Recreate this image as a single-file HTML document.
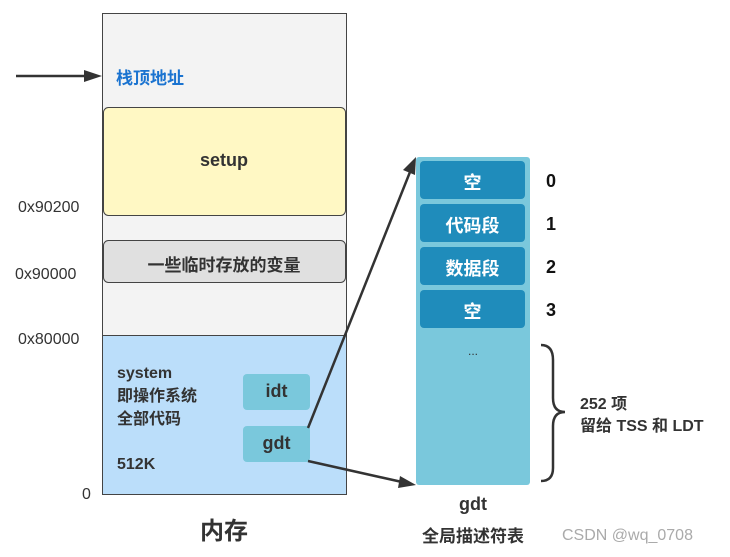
<!DOCTYPE html>
<html><head><meta charset="utf-8"><style>
body{margin:0;width:730px;height:557px;background:#fff;overflow:hidden;position:relative;font-family:"Liberation Sans","Noto Sans CJK SC",sans-serif;}
.a{position:absolute;}
</style></head><body>
<svg class="a" style="left:0;top:0" width="730" height="557">
<rect x="102.5" y="13.5" width="244" height="481" fill="#f3f3f3" stroke="#444"/>
<rect x="102.5" y="335.5" width="244" height="159" fill="#bbdefa" stroke="#444"/>
<rect x="103.5" y="107.5" width="242" height="108" rx="5" fill="#fff8c4" stroke="#444"/>
<rect x="103.5" y="240.5" width="242" height="42" rx="5" fill="#e0e0e0" stroke="#444"/>
<rect x="243" y="374" width="67" height="36" rx="4" fill="#7ac8dc"/>
<rect x="243" y="426" width="67" height="36" rx="4" fill="#7ac8dc"/>
<rect x="416" y="157" width="114" height="328" rx="3" fill="#7ac8dc"/>
<rect x="420" y="161" width="105" height="38" rx="4" fill="#1f8cbb"/>
<rect x="420" y="204" width="105" height="38" rx="4" fill="#1f8cbb"/>
<rect x="420" y="247" width="105" height="38" rx="4" fill="#1f8cbb"/>
<rect x="420" y="290" width="105" height="38" rx="4" fill="#1f8cbb"/>
<line x1="16" y1="76" x2="88" y2="76" stroke="#333" stroke-width="2.5"/>
<polygon points="102,76 84,70 84,82" fill="#333"/>
<line x1="308" y1="428" x2="410" y2="172" stroke="#333" stroke-width="2.5"/>
<polygon points="416,157 403,170 415,175" fill="#333"/>
<line x1="308" y1="461" x2="402" y2="482" stroke="#333" stroke-width="2.5"/>
<polygon points="416,485 400,476 398,488" fill="#333"/>
<path d="M541,345 Q553,345 553,360 L553,398 Q553,412 565,412 Q553,412 553,426 L553,468 Q553,481 541,481" fill="none" stroke="#333" stroke-width="2.5"/>
</svg>
<div class="a" style="left:116px;top:64px;font-size:17px;font-weight:bold;color:#1a73d0">栈顶地址</div>
<div class="a" style="left:103px;top:150px;width:242px;text-align:center;font-size:18px;font-weight:bold;color:#333">setup</div>
<div class="a" style="left:103px;top:251px;width:242px;text-align:center;font-size:17px;font-weight:bold;color:#333">一些临时存放的变量</div>
<div class="a" style="left:18px;top:199px;font-size:16px;color:#333">0x90200</div>
<div class="a" style="left:15px;top:266px;font-size:16px;color:#333">0x90000</div>
<div class="a" style="left:18px;top:331px;font-size:16px;color:#333">0x80000</div>
<div class="a" style="left:82px;top:486px;font-size:16px;color:#333">0</div>
<div class="a" style="left:117px;top:362px;font-size:16px;font-weight:bold;color:#333;line-height:23px">system<br>即操作系统<br>全部代码</div>
<div class="a" style="left:117px;top:456px;font-size:16px;font-weight:bold;color:#333">512K</div>
<div class="a" style="left:243px;top:381px;width:67px;text-align:center;font-size:18px;font-weight:bold;color:#333">idt</div>
<div class="a" style="left:243px;top:433px;width:67px;text-align:center;font-size:18px;font-weight:bold;color:#333">gdt</div>
<div class="a" style="left:102px;top:511px;width:244px;text-align:center;font-size:24px;font-weight:bold;color:#333">内存</div>
<div class="a" style="left:420px;top:169px;width:105px;text-align:center;font-size:18px;font-weight:bold;color:#fff">空</div>
<div class="a" style="left:420px;top:212px;width:105px;text-align:center;font-size:18px;font-weight:bold;color:#fff">代码段</div>
<div class="a" style="left:420px;top:255px;width:105px;text-align:center;font-size:18px;font-weight:bold;color:#fff">数据段</div>
<div class="a" style="left:420px;top:298px;width:105px;text-align:center;font-size:18px;font-weight:bold;color:#fff">空</div>
<div class="a" style="left:546px;top:171px;font-size:18px;font-weight:bold;color:#111">0</div>
<div class="a" style="left:546px;top:214px;font-size:18px;font-weight:bold;color:#111">1</div>
<div class="a" style="left:546px;top:257px;font-size:18px;font-weight:bold;color:#111">2</div>
<div class="a" style="left:546px;top:300px;font-size:18px;font-weight:bold;color:#111">3</div>
<div class="a" style="left:416px;top:344px;width:114px;text-align:center;font-size:12px;color:#333">...</div>
<div class="a" style="left:580px;top:394px;font-size:16px;font-weight:bold;color:#333;line-height:22px">252 项<br>留给 TSS 和 LDT</div>
<div class="a" style="left:400px;top:494px;width:146px;text-align:center;font-size:18px;font-weight:bold;color:#333">gdt</div>
<div class="a" style="left:400px;top:522px;width:146px;text-align:center;font-size:17px;font-weight:bold;color:#333">全局描述符表</div>
<div class="a" style="left:562px;top:527px;font-size:16px;color:#aaa">CSDN @wq_0708</div>
</body></html>
